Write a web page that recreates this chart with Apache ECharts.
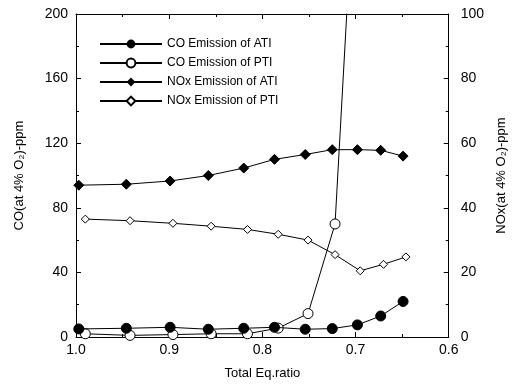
<!DOCTYPE html>
<html><head><meta charset="utf-8">
<script src="https://cdn.jsdelivr.net/npm/echarts@6/dist/echarts.min.js"></script>
<style>html,body{margin:0;padding:0;background:#fff}#c{width:516px;height:385px}</style>
</head><body><div id="c"></div>
<script>
var eqATI = [0.997, 0.946, 0.899, 0.858, 0.82, 0.787, 0.754, 0.725, 0.698, 0.673, 0.649];
var coATI = [5, 5.4, 6, 4.8, 5.4, 6, 4.8, 5.2, 7.5, 13, 22];
var noxATI = [47, 47.3, 48.3, 50, 52.3, 55, 56.5, 58, 58, 57.8, 56];
var eqPTI = [0.99, 0.942, 0.896, 0.855, 0.816, 0.783, 0.751, 0.722, 0.695, 0.670, 0.646];
var coPTI = [2, 1, 1.5, 2, 2, 5.5, 14.5, 70, 350];
var noxPTI = [36.5, 36, 35.2, 34.3, 33.3, 31.8, 30, 25.5, 20.5, 22.5, 24.8];
var seriesNames = ['CO Emission of ATI', 'CO Emission of PTI', 'NOx Emission of ATI', 'NOx Emission of PTI'];
var xTicks = ['1.0', '0.9', '0.8', '0.7', '0.6'];

function pairs(xs, ys) { return ys.map(function (v, i) { return [xs[i], v]; }); }
var FONT = 'Liberation Sans';
var lineStyle = { color: '#000', width: 1 };
var axisCommon = {
  axisLine: { onZero: false, lineStyle: { color: '#000', width: 1 } },
  axisTick: { inside: true, length: 5, lineStyle: { color: '#000' } },
  minorTick: { show: true, splitNumber: 2, length: 3, lineStyle: { color: '#000' } },
  splitLine: { show: false },
  axisLabel: { color: '#000', fontFamily: FONT, fontSize: 14 },
  nameTextStyle: { color: '#000', fontFamily: FONT, fontSize: 13 }
};
function ax(extra) { return Object.assign({}, JSON.parse(JSON.stringify(axisCommon)), extra); }

var chart = echarts.init(document.getElementById('c'), null, { renderer: 'canvas' });
chart.setOption({
  animation: false,
  backgroundColor: '#fff',
  grid: { left: 76, right: 64, top: 14, bottom: 48 },
  legend: {
    orient: 'vertical', left: 94, top: 33, itemWidth: 62, itemHeight: 11, itemGap: 7,
    textStyle: { color: '#000', fontFamily: FONT, fontSize: 12 },
    data: seriesNames
  },
  xAxis: [
    ax({ type: 'value', min: 0.6, max: 1.0, interval: 0.1, inverse: true, position: 'bottom',
      name: 'Total Eq.ratio', nameLocation: 'middle', nameGap: 30,
      axisLabel: { color: '#000', fontFamily: FONT, fontSize: 14, margin: 6,
        formatter: function (v) { var s = v.toFixed(1); return xTicks.indexOf(s) >= 0 ? s : ''; } } }),
    ax({ type: 'value', min: 0.6, max: 1.0, interval: 0.1, inverse: true, position: 'top',
      axisLabel: { show: false } })
  ],
  yAxis: [
    ax({ type: 'value', min: 0, max: 200, interval: 40, position: 'left',
      name: 'CO(at 4% O\u2082)-ppm', nameLocation: 'middle', nameGap: 50, nameRotate: 90 }),
    ax({ type: 'value', min: 0, max: 100, interval: 20, position: 'right',
      name: 'NOx(at 4% O\u2082)-ppm', nameLocation: 'middle', nameGap: 45, nameRotate: 90,
      axisLabel: { color: '#000', fontFamily: FONT, fontSize: 14, margin: 12 } })
  ],
  series: [
    { name: seriesNames[0], type: 'line', xAxisIndex: 0, yAxisIndex: 0, data: pairs(eqATI, coATI),
      symbol: 'circle', symbolSize: 10, lineStyle: lineStyle, itemStyle: { color: '#000', borderColor: '#000' }, z: 5 },
    { name: seriesNames[1], type: 'line', xAxisIndex: 0, yAxisIndex: 0, data: pairs(eqPTI, coPTI),
      symbol: 'circle', symbolSize: 10, lineStyle: lineStyle, itemStyle: { color: '#fff', borderColor: '#000', borderWidth: 1 }, z: 4 },
    { name: seriesNames[2], type: 'line', xAxisIndex: 0, yAxisIndex: 1, data: pairs(eqATI, noxATI),
      symbol: 'diamond', symbolSize: 10, lineStyle: lineStyle, itemStyle: { color: '#000', borderColor: '#000' }, z: 5 },
    { name: seriesNames[3], type: 'line', xAxisIndex: 0, yAxisIndex: 1, data: pairs(eqPTI, noxPTI),
      symbol: 'diamond', symbolSize: 8, lineStyle: lineStyle, itemStyle: { color: '#fff', borderColor: '#000', borderWidth: 1 }, z: 4 }
  ]
});
</script></body></html>
